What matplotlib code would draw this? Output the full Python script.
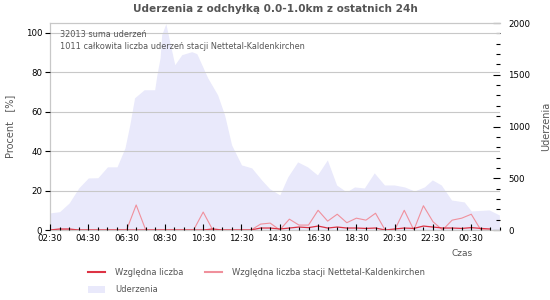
import matplotlib
matplotlib.use("Agg")
import matplotlib.pyplot as plt
import matplotlib.dates as mdates
from matplotlib.lines import Line2D
from matplotlib.patches import Patch
from datetime import datetime, timedelta

plt.rcParams["font.family"] = ["DejaVu Sans"]

# ── dane ─────────────────────────────────────────────
STRIKE_TIMES = ["02:30", "03:00", "03:30", "04:00", "04:30", "05:00", "05:30", "06:00",
                "06:25", "06:40", "06:55", "07:25", "07:58", "08:05", "08:15", "08:20",
                "08:33", "08:45", "09:01", "09:23", "09:54", "10:10", "10:44", "11:15",
                "11:37", "11:59", "12:30", "13:02", "13:33", "13:58", "14:30", "14:55",
                "15:26", "15:57", "16:28", "16:59", "17:28", "17:59", "18:24", "18:55",
                "19:26", "19:58", "20:29", "21:01", "21:32", "22:03", "22:28", "22:56",
                "23:28", "00:08", "00:30", "01:26", "01:58"]
STRIKES = [165, 177, 261, 406, 503, 505, 610, 610,
           794, 1016, 1277, 1355, 1355, 1500, 1665, 1888,
           1994, 1820, 1597, 1694, 1723, 1704, 1471, 1307,
           1113, 823, 629, 600, 484, 400, 339, 513,
           658, 610, 532, 677, 435, 368, 416, 406,
           552, 435, 435, 416, 377, 416, 484, 435,
           290, 271, 184, 194, 145]

REL_TIMES = ["02:30", "03:00", "03:30", "04:00", "04:30", "05:00", "05:30", "06:00",
             "06:30", "07:00", "07:30", "08:00", "08:30", "09:00", "09:30", "10:00",
             "10:30", "11:00", "11:30", "12:00", "12:30", "13:00", "13:30", "14:00",
             "14:30", "15:00", "15:30", "16:00", "16:30", "17:00", "17:30", "18:00",
             "18:30", "19:00", "19:30", "20:00", "20:30", "21:00", "21:30", "22:00",
             "22:30", "23:00", "23:30", "00:00", "00:30", "01:00", "01:30"]
REL_ALL = [0, 0.5, 0.5, 0, 0, 0, 0, 0,
           0, 0, 0, 0, 0, 0, 0, 0,
           0, 0.5, 0, 0, 0, 0, 1, 1,
           0.5, 1, 1.5, 1.2, 2, 1, 1.5, 1,
           1, 0.8, 1, 0, 0.5, 1, 0.8, 2,
           1.5, 1, 1, 0.8, 1.2, 0.8, 0.5]
REL_STATION = [0, 0, 0, 0, 0, 0, 0, 0,
               0, 12.7, 0, 0, 0, 0, 0, 0,
               9.1, 0, 0, 0, 0, 0, 3, 3.5,
               0, 5.5, 2.5, 2.5, 10, 4.5, 8, 3.7,
               6, 5, 8.5, 0, 0, 10, 0, 12.3,
               4.2, 0, 5, 6, 8, 0, 0]

TOTAL_STRIKES = 32013
STATION_STRIKES = 1011

BASE = datetime(2024, 6, 1, 2, 30)


def to_dt(s):
    h, m = map(int, s.split(":"))
    d = BASE.replace(hour=h, minute=m)
    if d < BASE:
        d += timedelta(days=1)
    return d


t_strikes = [to_dt(s) for s in STRIKE_TIMES]
t_rel = [to_dt(s) for s in REL_TIMES]

FILL = "#e9e9fb"
RED = "#dd3344"
PINK = "#f0909c"
GRID = "#c8c8c8"
TXT = "#555555"

fig = plt.figure(figsize=(5.5, 3.0), dpi=100)
ax1 = fig.add_axes([50 / 550, 1 - 230 / 300, 450 / 550, 207 / 300])
ax2 = ax1.twinx()

# słupki uderzeń — tło
ax2.fill_between(t_strikes, STRIKES, 0, color=FILL, lw=0)
ax2.set_ylim(0, 2000)
ax1.set_zorder(ax2.get_zorder() + 1)
ax1.patch.set_visible(False)

ax1.plot(t_rel, REL_STATION, color=PINK, lw=0.8)
ax1.plot(t_rel, REL_ALL, color=RED, lw=0.9)
ax1.set_ylim(0, 105)
ax1.set_xlim(BASE, BASE + timedelta(hours=23.5))
ax1.set_yticks(range(0, 101, 20))
ax1.grid(axis="y", color=GRID, lw=0.8)
ax1.set_axisbelow(False)

major = [BASE + timedelta(hours=2 * i) for i in range(12)]
minor = [BASE + timedelta(minutes=30 * i) for i in range(48)]
ax1.set_xticks(mdates.date2num(major))
ax1.set_xticks(mdates.date2num(minor), minor=True)
ax1.xaxis.set_major_formatter(mdates.DateFormatter("%H:%M"))

ax1.tick_params(axis="x", which="major", direction="in", length=4, width=0.8,
                labelsize=6.2, pad=3)
ax1.tick_params(axis="x", which="minor", direction="in", length=2.5, width=0.8)
ax1.tick_params(axis="y", direction="out", length=3.5, width=0.8, labelsize=6.2, pad=2)

ax2.set_yticks(range(0, 2001, 500))
ax2.set_yticks(range(0, 2001, 100), minor=True)
ax2.tick_params(axis="y", which="major", direction="in", length=5, width=0.8,
                labelsize=6.2, pad=6)
ax2.tick_params(axis="y", which="minor", direction="in", length=3, width=0.8)

for ax in (ax1, ax2):
    for side in ("left", "bottom", "top"):
        ax.spines[side].set_color(GRID)
    ax.spines["right"].set_visible(False)

ax1.set_ylabel("Procent   [%]", fontsize=7, color=TXT, labelpad=8)
ax2.set_ylabel("Uderzenia", fontsize=7, color=TXT, labelpad=8)

ax1.text(0.022, 0.965,
         f"{TOTAL_STRIKES} suma uderzeń\n{STATION_STRIKES} całkowita liczba uderzeń stacji Nettetal-Kaldenkirchen",
         transform=ax1.transAxes, ha="left", va="top", fontsize=5.9, color=TXT,
         linespacing=1.35)

fig.suptitle("Uderzenia z odchyłką 0.0-1.0km z ostatnich 24h", x=0.5, y=0.985,
             fontsize=7.6, fontweight="bold", color=TXT)
fig.text(462 / 550, 1 - 253 / 300, "Czas", fontsize=6.5, color=TXT,
         ha="center", va="center")

handles = [Line2D([], [], color=RED, lw=1.5),
           Patch(facecolor=FILL, edgecolor="none"),
           Line2D([], [], color=PINK, lw=1.5)]
labels = ["Względna liczba", "Uderzenia",
          "Względna liczba stacji Nettetal-Kaldenkirchen"]
fig.legend(handles, labels, ncol=2, frameon=False, loc="upper left",
           bbox_to_anchor=(85 / 550, 1 - 265 / 300), fontsize=6,
           handlelength=2.0, handleheight=0.9, handletextpad=1.2,
           columnspacing=2.6, labelspacing=0.95, labelcolor=TXT,
           borderaxespad=0)

fig.savefig("out.png", dpi=100)
